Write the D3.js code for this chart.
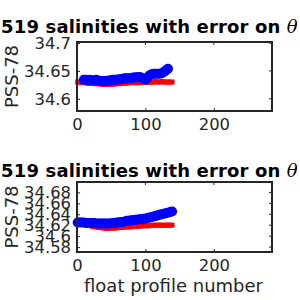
<!DOCTYPE html>
<html>
<head>
<meta charset="utf-8">
<script src="https://cdn.jsdelivr.net/npm/d3@7"></script>
<style>
  body { margin: 0; background: #fff; }
  svg { display: block; font-family: "DejaVu Sans", sans-serif; }
</style>
</head>
<body>
<div id="container"></div>
<script>
// profile numbers, every third profile
const profiles = [1, 4, 7, 10, 13, 16, 19, 22, 25, 28, 31, 34, 37, 40, 43, 46, 49, 52, 55, 58, 61, 64, 67, 70,
  73, 76, 79, 82, 85, 88, 91, 94, 97, 100, 103, 106, 109, 112, 115, 118, 121, 124, 127, 130, 133, 136, 139];

// top panel
const topBlue = [null, null, null, 34.634, 34.634, 34.633, 34.634, 34.633, 34.633, 34.634, 34.633, 34.632,
  34.632, 34.632, 34.632, 34.633, 34.633, 34.634, 34.634, 34.634, 34.635, 34.635, 34.636, 34.637,
  34.637, 34.637, 34.637, 34.638, 34.638, 34.639, 34.639, 34.638, 34.636, 34.634, 34.638, 34.642,
  34.644, 34.645, 34.645, 34.645, 34.645, 34.646, 34.648, 34.651, 34.654, null, null];
const topRed = [34.630, 34.630, 34.629, 34.629, 34.629, 34.628, 34.628, 34.628, 34.628, 34.627, 34.627, 34.627,
  34.626, 34.626, 34.626, 34.626, 34.626, 34.626, 34.627, 34.627, 34.627, 34.628, 34.628, 34.628,
  34.628, 34.629, 34.629, 34.629, 34.629, 34.629, 34.629, 34.629, 34.630, 34.630, 34.630, 34.630,
  34.630, 34.630, 34.631, 34.630, 34.630, 34.631, 34.630, 34.630, 34.630, 34.630, 34.630];
const topGreen = [34.630, 34.630, 34.629, 34.629, 34.629, 34.629, 34.628, 34.628, 34.628, 34.628, 34.628, 34.628,
  34.628, 34.628, 34.628, 34.628, 34.628, 34.628, 34.628, 34.628, 34.628, 34.629, 34.629, 34.629,
  34.629, 34.629, 34.629, 34.629, 34.629, 34.629, 34.629, 34.629, 34.629, 34.629, 34.629, 34.629,
  34.629, 34.629, 34.629, 34.629, 34.629, 34.629, 34.629, 34.629, 34.629, 34.629, 34.629];

// bottom panel
const botBlue = [34.625, 34.625, 34.625, 34.625, 34.624, 34.624, 34.624, 34.624, 34.624, 34.623, 34.623, 34.623,
  34.623, 34.623, 34.623, 34.623, 34.623, 34.624, 34.624, 34.625, 34.625, 34.626, 34.626, 34.627,
  34.628, 34.628, 34.629, 34.629, 34.630, 34.630, 34.631, 34.631, 34.632, 34.632, 34.633, 34.634,
  34.635, 34.636, 34.637, 34.638, 34.639, 34.640, 34.641, 34.642, 34.643, 34.644, 34.645];
const botRed = [null, null, null, null, null, null, null, 34.618, 34.617, 34.617, 34.616, 34.616,
  34.615, 34.615, 34.614, 34.614, 34.615, 34.615, 34.615, 34.615, 34.616, 34.616, 34.616, 34.617,
  34.617, 34.617, 34.617, 34.618, 34.618, 34.618, 34.618, 34.619, 34.619, 34.619, 34.619, 34.619,
  34.620, 34.620, 34.620, 34.620, 34.620, 34.620, 34.620, 34.620, 34.620, 34.620, 34.620];
const botGreen = [null, null, null, null, null, null, null, 34.618, 34.618, 34.617, 34.617, 34.617,
  34.617, 34.617, 34.617, 34.617, 34.617, 34.617, 34.617, 34.617, 34.617, 34.617, 34.618, 34.618,
  34.618, 34.618, 34.618, 34.618, 34.619, 34.619, 34.619, 34.619, 34.619, 34.619, 34.619, 34.619,
  34.619, 34.619, 34.619, 34.619, 34.619, 34.619, 34.619, 34.619, 34.619, 34.619, 34.619];

const xTicks = [0, 100, 200];
const topYTicks = [34.6, 34.65, 34.7];
const botYTicks = [34.58, 34.6, 34.62, 34.64, 34.66, 34.68];

const titleText = "2519 salinities with error on ";
const yLabel = "PSS-78";
const xLabel = "float profile number";

const width = 300, height = 300;
const svg = d3.select("#container").append("svg")
              .attr("width", width)
              .attr("height", height);
svg.append("rect").attr("width", width).attr("height", height).attr("fill", "#fff");

const xScale = d3.scaleLinear().domain([0, 285]).range([77, 272]);
const fmt = (d) => String(+d.toFixed(2));

function panel(top, bottom, yDomain, yTicks, blue, red, green, titleY) {
  const yScale = d3.scaleLinear().domain(yDomain).range([bottom, top]);
  const g = svg.append("g");

  const pts = (vals) => profiles.map((p, i) => ({x: p, y: vals[i]})).filter((d) => d.y != null);

  // green line (mostly hidden under red)
  g.append("path")
   .datum(pts(green))
   .attr("d", d3.line().x((d) => xScale(d.x)).y((d) => yScale(d.y)))
   .attr("fill", "none")
   .attr("stroke", "#00ff00")
   .attr("stroke-width", 1)
   .attr("stroke-dasharray", "3,3");

  g.selectAll(".red")
   .data(pts(red))
   .enter()
   .append("rect")
   .attr("x", (d) => xScale(d.x) - 2.5)
   .attr("y", (d) => yScale(d.y) - 2.5)
   .attr("width", 5)
   .attr("height", 5)
   .attr("fill", "#ff0000");

  g.selectAll(".blue")
   .data(pts(blue))
   .enter()
   .append("circle")
   .attr("cx", (d) => xScale(d.x))
   .attr("cy", (d) => yScale(d.y))
   .attr("r", 5)
   .attr("fill", "#0000ff");

  // axes
  const xAxis = d3.axisBottom(xScale).tickValues(xTicks).tickSize(-3).tickPadding(7).tickFormat(d3.format("d"));
  const xg = g.append("g").attr("transform", "translate(0," + bottom + ")").call(xAxis);
  const yAxis = d3.axisLeft(yScale).tickValues(yTicks).tickSize(-3).tickPadding(6).tickFormat(fmt);
  const yg = g.append("g").attr("transform", "translate(77,0)").call(yAxis);
  [xg, yg].forEach((a) => {
    a.select(".domain").remove();
    a.selectAll("line").attr("stroke", "#262626");
    a.selectAll("text").attr("fill", "#262626").style("font-size", "16.4px").style("font-family", "DejaVu Sans");
  });
  // ticks on top and right
  g.selectAll(".tt").data(xTicks).enter().append("line")
   .attr("x1", (d) => xScale(d)).attr("x2", (d) => xScale(d))
   .attr("y1", top).attr("y2", top + 3).attr("stroke", "#262626");
  g.selectAll(".rt").data(yTicks).enter().append("line")
   .attr("x1", 272).attr("x2", 269)
   .attr("y1", (d) => yScale(d)).attr("y2", (d) => yScale(d)).attr("stroke", "#262626");

  g.append("rect")
   .attr("x", 77).attr("y", top)
   .attr("width", 272 - 77).attr("height", bottom - top)
   .attr("fill", "none")
   .attr("stroke", "#262626")
   .attr("stroke-width", 2);

  g.append("text")
   .text(yLabel)
   .attr("transform", "translate(18," + (top + bottom) / 2 + ")rotate(-90)")
   .attr("text-anchor", "middle")
   .attr("fill", "#262626")
   .style("font-size", "18px");

  const t = g.append("text")
   .attr("x", 297.7).attr("y", titleY)
   .attr("text-anchor", "end")
   .attr("fill", "#000")
   .style("font-size", "18px")
   .style("font-weight", "bold");
  t.append("tspan").text(titleText).style("letter-spacing", "0.15px");
  t.append("tspan").text("θ").style("font-family", "DejaVu Serif").style("font-style", "italic").style("font-weight", "normal");
}

panel(42, 111, [34.578, 34.702], topYTicks, topBlue, topRed, topGreen, 33);
panel(182, 252, [34.571, 34.699], botYTicks, botBlue, botRed, botGreen, 176.5);

svg.append("text")
   .text(xLabel)
   .attr("x", 173.5).attr("y", 292)
   .attr("text-anchor", "middle")
   .attr("fill", "#262626")
   .style("font-size", "18px");
</script>
</body>
</html>
